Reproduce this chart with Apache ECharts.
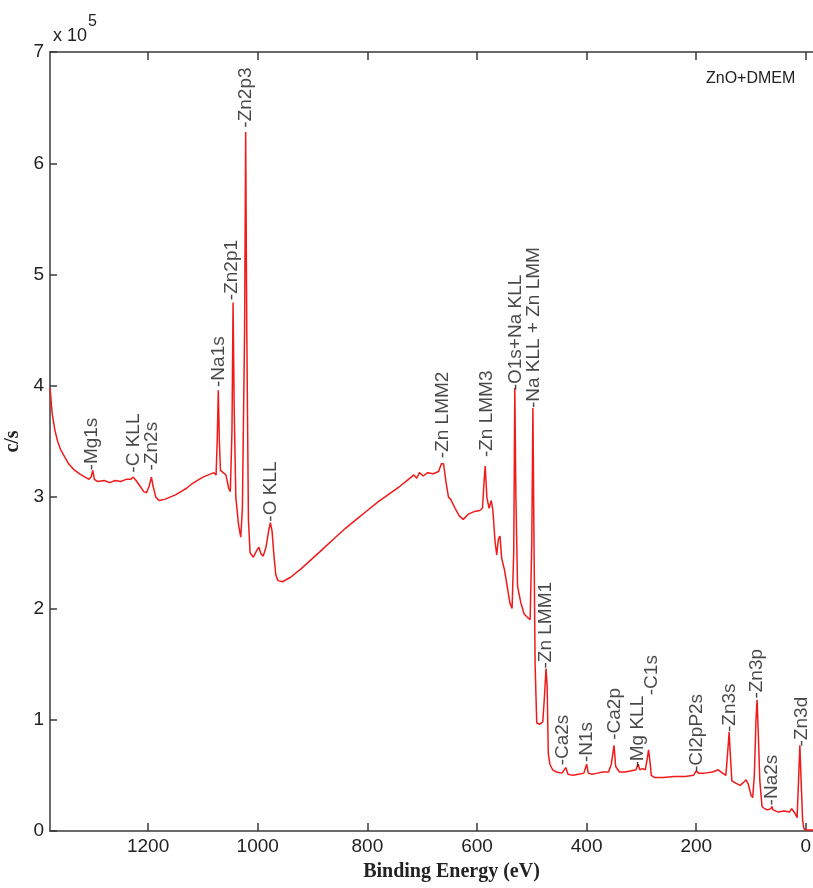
<!DOCTYPE html>
<html>
<head>
<meta charset="utf-8">
<script src="https://cdn.jsdelivr.net/npm/echarts@6/dist/echarts.min.js"></script>
<style>
  html, body { margin: 0; padding: 0; background: #fff; }
  #main { width: 813px; height: 888px; }
</style>
</head>
<body>
<div id="main"></div>
<script>
// survey spectrum, counts in units of 1e5 c/s
var energy = [1379, 1375, 1370, 1365, 1360, 1352, 1345, 1336, 1325, 1315, 1308, 1304, 1301, 1298, 1292,
    1280, 1270, 1260, 1250, 1240, 1232, 1227, 1222, 1215, 1208, 1203, 1198, 1194, 1191, 1186, 1180,
    1170, 1160, 1150, 1140, 1130, 1120, 1110, 1100, 1090, 1080, 1076, 1074, 1072, 1070, 1068, 1063,
    1058, 1053, 1050, 1047, 1045, 1043, 1040, 1035, 1031, 1028, 1024, 1022, 1020, 1017, 1014, 1008,
    1002, 998, 994, 990, 985, 980, 977, 974, 970, 967, 963, 955, 940, 920, 900, 880, 860, 840, 820,
    800, 780, 760, 740, 725, 715, 710, 705, 698, 690, 680, 670, 665, 661, 657, 652, 648, 640, 632,
    625, 615, 605, 595, 590, 587, 585, 582, 578, 574, 571, 567, 564, 561, 558, 555, 550, 545, 540,
    536, 533, 531, 529, 526, 520, 514, 508, 503, 500, 498, 496, 494, 491, 485, 480, 477, 474, 472,
    470, 467, 462, 455, 445, 438, 434, 425, 415, 405, 400, 397, 390, 380, 370, 360, 355, 350, 347,
    340, 330, 320, 310, 306, 303, 298, 293, 289, 287, 285, 282, 276, 260, 240, 220, 205, 200, 196,
    185, 170, 160, 152, 146, 142, 140, 138, 135, 128, 120, 113, 109, 105, 100, 97, 94, 91, 89, 87,
    84, 80, 75, 70, 64, 62, 60, 50, 40, 30, 26, 24, 20, 16, 13, 11, 9, 6, 4, 2, -13];
var counts = [3.98, 3.75, 3.6, 3.5, 3.43, 3.36, 3.3, 3.25, 3.21, 3.18, 3.16, 3.18, 3.24, 3.16, 3.14,
    3.15, 3.13, 3.15, 3.14, 3.16, 3.16, 3.18, 3.15, 3.1, 3.05, 3.04, 3.1, 3.18, 3.1, 3.0, 2.97,
    2.98, 3.0, 3.02, 3.05, 3.08, 3.12, 3.15, 3.18, 3.2, 3.22, 3.2, 3.5, 3.96, 3.5, 3.24, 3.22,
    3.2, 3.08, 3.05, 3.6, 4.75, 3.8, 3.0, 2.75, 2.64, 2.9, 4.5, 6.28, 4.5, 2.8, 2.5, 2.46,
    2.52, 2.55, 2.49, 2.47, 2.55, 2.7, 2.77, 2.7, 2.45, 2.3, 2.25, 2.24, 2.28, 2.36, 2.45, 2.54, 2.63, 2.72, 2.8,
    2.88, 2.96, 3.03, 3.1, 3.16, 3.2, 3.17, 3.22, 3.19, 3.22, 3.21, 3.23, 3.3, 3.3, 3.15, 3.0, 2.98, 2.9, 2.83,
    2.8, 2.85, 2.87, 2.88, 2.9, 3.15, 3.28, 3.0, 2.9, 2.97, 2.88, 2.6, 2.48, 2.62, 2.65, 2.45, 2.35, 2.2, 2.05,
    2.0, 2.5, 3.98, 3.0, 2.2, 2.05, 1.95, 1.92, 1.9, 2.6, 3.8, 2.6, 1.5, 0.97, 0.96, 0.98, 1.2, 1.46, 1.3,
    0.7, 0.6, 0.55, 0.53, 0.52, 0.57, 0.51, 0.5, 0.51, 0.52, 0.6, 0.52, 0.51, 0.52, 0.53, 0.53, 0.6, 0.77, 0.58,
    0.53, 0.53, 0.54, 0.55, 0.6, 0.55, 0.56, 0.55, 0.66, 0.73, 0.65, 0.5, 0.48, 0.48, 0.49, 0.49, 0.5, 0.54, 0.52,
    0.52, 0.53, 0.55, 0.52, 0.5, 0.75, 0.89, 0.7, 0.45, 0.43, 0.41, 0.44, 0.46, 0.42, 0.32, 0.3, 0.5, 1.0, 1.18, 0.9,
    0.45, 0.22, 0.2, 0.19, 0.2, 0.22, 0.19, 0.17, 0.18, 0.17, 0.2, 0.21, 0.16, 0.12, 0.5, 0.77, 0.5, 0.1, 0.03, 0.01, 0.01];

// peak annotations: name, energy, height of the marker
var peakNames = ['Mg1s', 'C KLL', 'Zn2s', 'Na1s', 'Zn2p1', 'Zn2p3', 'O KLL', 'Zn LMM2', 'Zn LMM3',
    'O1s+Na KLL', 'Na KLL + Zn LMM', 'Zn LMM1', 'Ca2s', 'N1s', 'Ca2p', 'Mg KLL', 'C1s', 'Cl2pP2s',
    'Zn3s', 'Zn3p', 'Na2s', 'Zn3d'];
var peakEnergy = [1302, 1227, 1194, 1072, 1047, 1021, 977, 662, 583, 530, 496, 474, 443, 399, 348,
    306, 281, 199, 139, 89, 62, 7];
var peakHeight = [3.24, 3.22, 3.24, 3.99, 4.77, 6.32, 2.78, 3.35, 3.36, 3.96, 3.8, 1.46, 0.59, 0.62,
    0.82, 0.57, 1.22, 0.53, 0.89, 1.19, 0.23, 0.76];

var xTicks = [0, 200, 400, 600, 800, 1000, 1200];

var lineData = energy.map(function (e, i) { return [e, counts[i]]; });
var labelData = peakNames.map(function (n, i) { return [peakEnergy[i], peakHeight[i], n]; });

var myChart = echarts.init(document.getElementById('main'));

var axisColor = '#3a3a3a';
var option = {
    animation: false,
    title: {
        text: '{a|x 10}{b|5}',
        left: 48,
        top: 6,
        textStyle: {
            rich: {
                a: { fontFamily: 'Liberation Sans', fontWeight: 'normal', fontSize: 18, color: '#222', padding: [16, 0, 0, 0] },
                b: { fontFamily: 'Liberation Sans', fontWeight: 'normal', fontSize: 16, color: '#222', padding: [0, 0, 12, 1] }
            }
        }
    },
    graphic: [{
        type: 'text',
        left: 706,
        top: 71,
        style: { text: 'ZnO+DMEM', fontFamily: 'Liberation Sans', fontSize: 16, fill: '#222' }
    }],
    grid: { left: 50, right: 0, top: 52, bottom: 57, outerBoundsMode: 'none', containLabel: false },
    xAxis: [{
        type: 'value',
        inverse: true,
        min: -13,
        max: 1379,
        name: 'Binding Energy (eV)',
        nameLocation: 'middle',
        nameGap: 31,
        nameTextStyle: {
            fontFamily: 'Liberation Serif', fontWeight: 'bold', fontSize: 20, color: '#222',
            padding: [0, 0, 0, 40]
        },
        axisLine: { onZero: false, lineStyle: { color: axisColor, width: 1.5 } },
        axisTick: { inside: true, length: 8, customValues: xTicks, lineStyle: { color: axisColor, width: 1.5 } },
        axisLabel: {
            customValues: xTicks,
            formatter: function (v) { return String(v); },
            fontFamily: 'Liberation Sans', fontSize: 19, color: '#222', margin: 6
        },
        splitLine: { show: false }
    }, {
        type: 'value',
        inverse: true,
        position: 'top',
        min: -13,
        max: 1379,
        axisLine: { onZero: false, lineStyle: { color: axisColor, width: 1.5 } },
        axisTick: { inside: true, length: 8, customValues: xTicks, lineStyle: { color: axisColor, width: 1.5 } },
        axisLabel: { show: false },
        splitLine: { show: false }
    }],
    yAxis: {
        type: 'value',
        min: 0,
        max: 7,
        interval: 1,
        name: 'c/s',
        nameLocation: 'middle',
        nameRotate: 90,
        nameGap: 24,
        nameTextStyle: { fontFamily: 'Liberation Serif', fontWeight: 'bold', fontSize: 20, color: '#222' },
        axisLine: { show: true, onZero: false, lineStyle: { color: axisColor, width: 1.5 } },
        axisTick: { show: true, inside: true, length: 7, lineStyle: { color: axisColor, width: 1.5 } },
        axisLabel: { fontFamily: 'Liberation Sans', fontSize: 19, color: '#222', margin: 6 },
        splitLine: { show: false }
    },
    series: [{
        type: 'line',
        data: lineData,
        showSymbol: false,
        lineStyle: { color: '#f01a1a', width: 1.5 },
        z: 2
    }, {
        type: 'scatter',
        data: labelData,
        symbolSize: 0,
        silent: true,
        label: {
            show: true,
            position: 'right',
            distance: 0,
            rotate: 90,
            formatter: function (p) { return '-' + p.data[2]; },
            fontFamily: 'Liberation Sans',
            fontSize: 19,
            color: '#1a1a1a'
        },
        z: 3
    }]
};

myChart.setOption(option);
</script>
</body>
</html>
